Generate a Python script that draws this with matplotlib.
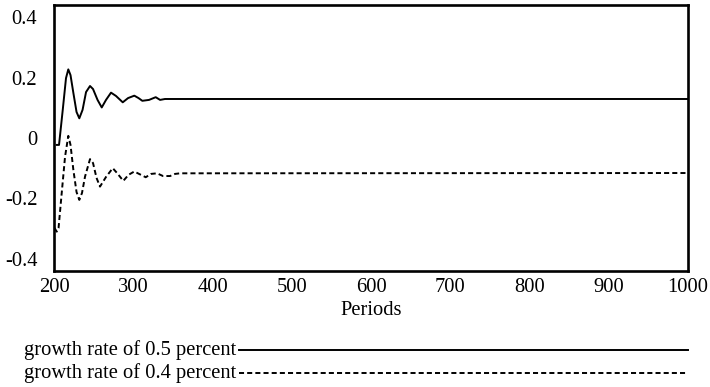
import matplotlib.pyplot as plt
from matplotlib.lines import Line2D

plt.rcParams['font.family'] = ['Liberation Serif', 'DejaVu Serif']

# growth rate of 0.5 percent
periods_05 = [203.4, 206.3, 211.0, 215.1, 218.0, 220.8, 224.4, 228.4, 231.9, 236.0,
              240.4, 245.4, 249.2, 254.9, 260.2, 265.6, 271.9, 278.2, 286.7, 293.4,
              301.3, 306.6, 311.4, 319.9, 328.3, 333.8, 340.0, 1000.0]
values_05 = [-0.023, -0.023, 0.093, 0.198, 0.227, 0.208, 0.149, 0.086, 0.065, 0.093,
             0.152, 0.172, 0.162, 0.126, 0.101, 0.126, 0.150, 0.139, 0.118, 0.132,
             0.140, 0.132, 0.123, 0.126, 0.135, 0.126, 0.129, 0.129]

# growth rate of 0.4 percent
periods_04 = [200.6, 203.4, 205.7, 209.7, 213.9, 218.0, 220.8, 224.4, 228.4, 231.9,
              235.3, 239.1, 245.4, 249.2, 253.6, 258.0, 265.6, 274.1, 279.5, 287.4,
              294.0, 301.3, 307.3, 315.7, 322.4, 330.0, 337.5, 346.4, 352.7, 359.0, 1000.0]
values_04 = [-0.298, -0.310, -0.298, -0.182, -0.062, 0.007, -0.023, -0.106, -0.179, -0.205,
             -0.182, -0.128, -0.070, -0.083, -0.132, -0.161, -0.129, -0.100, -0.116, -0.142,
             -0.122, -0.111, -0.119, -0.130, -0.119, -0.117, -0.126, -0.126, -0.119, -0.117, -0.116]

xticks = [200, 300, 400, 500, 600, 700, 800, 900, 1000]
yticks = [-0.4, -0.2, 0, 0.2, 0.4]
ytick_labels = ['-0.4', '-0.2', '0', '0.2', '0.4']
series_labels = ['growth rate of 0.5 percent', 'growth rate of 0.4 percent']

FS = 14.8

fig = plt.figure(figsize=(7.1, 3.87), dpi=100)
ax = fig.add_axes([0.0761, 0.300, 0.893, 0.687])

ax.plot(periods_05, values_05, color='black', lw=1.4, solid_joinstyle='round')
ax.plot(periods_04, values_04, color='black', lw=1.4, dashes=(2.6, 1.6))

ax.set_xlim(200, 1000)
ax.set_ylim(-0.44, 0.44)
ax.set_xticks(xticks)
ax.set_xticklabels([str(t) for t in xticks])
ax.set_yticks(yticks)
ax.set_yticklabels(ytick_labels)
ax.tick_params(axis='both', length=0, labelsize=FS)
ax.tick_params(axis='y', pad=12)
ax.tick_params(axis='x', pad=5)
for sp in ax.spines.values():
    sp.set_linewidth(1.9)

ax.set_xlabel('Periods', fontsize=FS, labelpad=3)

# legend below the plot: label text followed by a long sample line
W, H = 710, 387
rows = [(350, '-'), (373, (0, (2.6, 1.6)))]
for (y, ls), label in zip(rows, series_labels):
    fig.text(236 / W, 1 - y / H, label, ha='right', va='center', fontsize=FS)
    fig.add_artist(Line2D([239 / W, 688 / W], [1 - y / H, 1 - y / H],
                          color='black', lw=1.4, linestyle=ls))

fig.savefig('out.png', dpi=100)
